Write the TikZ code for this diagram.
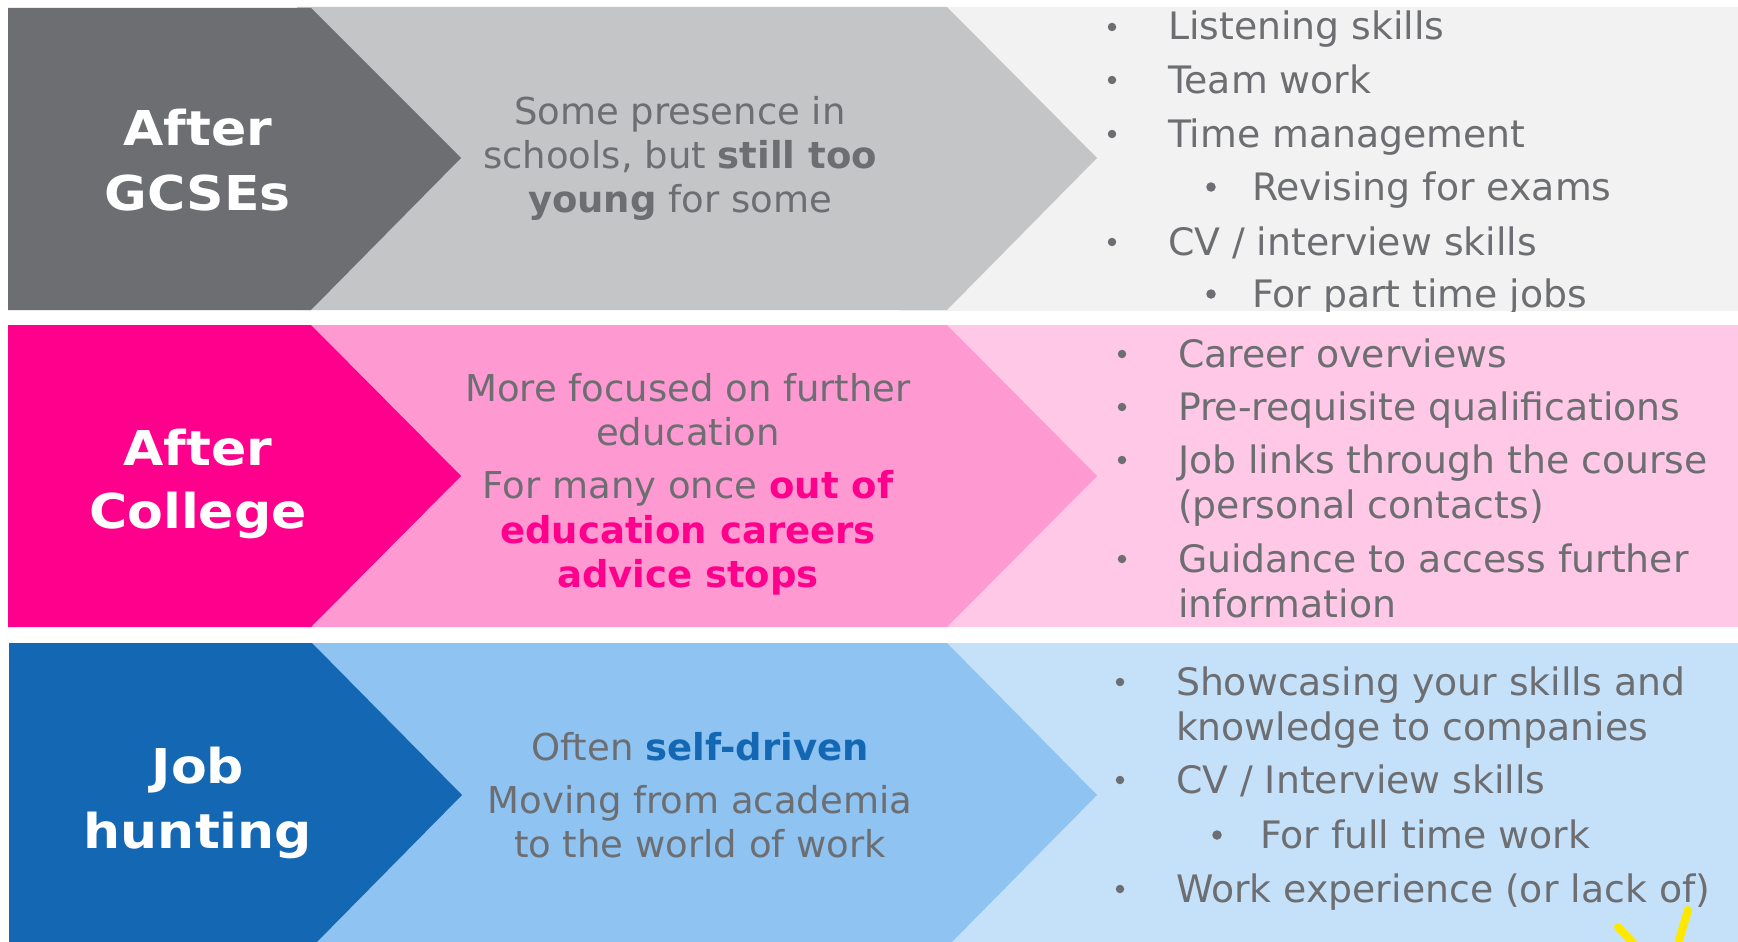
\documentclass[tikz,border=0pt]{standalone}
\usepackage{fontspec}
\setmainfont{DejaVu Sans}
\newfontfamily\lblfont{DejaVu Sans}[FakeStretch=1.085]
\definecolor{gDark}{HTML}{6D6E71}
\definecolor{gMid}{HTML}{C4C5C7}
\definecolor{gLight}{HTML}{F2F2F2}
\definecolor{pDark}{HTML}{FF008C}
\definecolor{pMid}{HTML}{FF99D2}
\definecolor{pLight}{HTML}{FFC8E7}
\definecolor{bDark}{HTML}{1468B3}
\definecolor{bMid}{HTML}{8EC3F2}
\definecolor{bLight}{HTML}{C5E1F9}
\definecolor{txtgray}{HTML}{6D6E71}
\definecolor{markyellow}{HTML}{FFE800}
\tikzset{
  body/.style={inner sep=0pt, outer sep=0pt, anchor=base, text=txtgray, font=\fontsize{37}{44}\selectfont},
  item/.style={inner sep=0pt, outer sep=0pt, anchor=base west, text=txtgray, font=\fontsize{37.8}{44}\selectfont},
  lbl/.style={inner sep=0pt, outer sep=0pt, anchor=base, text=white, font=\lblfont\fontsize{48}{52}\selectfont\bfseries},
  bul/.style={circle, fill=txtgray, inner sep=0pt, outer sep=0pt, minimum size=8.5pt},
  subbul/.style={bul, minimum size=9.5pt},
}
\begin{document}
\begin{tikzpicture}[x=1pt,y=-1pt]
\clip (0,0) rectangle (1738,942);
\fill[white] (0,0) rectangle (1738,942);
% ---------- Row 1 ----------
\fill[gLight] (900,7) rectangle (1738,311);
\fill[gMid] (297,7) -- (947,7) -- (1097,158) -- (947,310) -- (297,310) -- cycle;
\fill[gDark] (8,8) -- (311,8) -- (461,158) -- (311,310) -- (8,310) -- cycle;
% ---------- Row 2 ----------
\fill[pLight] (900,325) rectangle (1738,627);
\fill[pMid] (297,325) -- (947,325) -- (1097,476) -- (947,627) -- (297,627) -- cycle;
\fill[pDark] (8,325) -- (311,325) -- (461,476) -- (311,627) -- (8,627) -- cycle;
% ---------- Row 3 ----------
\fill[bLight] (900,643) rectangle (1738,947);
\fill[bMid] (297,643) -- (947,643) -- (1097,795) -- (947,947) -- (297,947) -- cycle;
\fill[bDark] (9,643) -- (312,643) -- (462,795) -- (312,947) -- (9,947) -- cycle;

% ---------- Labels ----------
\node[lbl] (l1a) at (198,145) {After};
\node[lbl] (l1b) at (198,210) {GCSEs};
\node[lbl] (l2a) at (198,465) {After};
\node[lbl] (l2b) at (198,528) {College};
\node[lbl] (l3a) at (198,783) {Job};
\node[lbl] (l3b) at (198,848) {hunting};

% ---------- Middle texts ----------
\node[body] (m1a) at (680,124) {Some presence in};
\node[body] (m1b) at (680,168) {schools, but \textbf{still too}};
\node[body] (m1c) at (680,212) {\textbf{young} for some};

\node[body] (m2a) at (688,401) {More focused on further};
\node[body] (m2b) at (688,445) {education};
\node[body] (m2c) at (688,498) {For many once \textbf{\textcolor{pDark}{out of}}};
\node[body] (m2d) at (688,543) {\textbf{\textcolor{pDark}{education careers}}};
\node[body] (m2e) at (688,587) {\textbf{\textcolor{pDark}{advice stops}}};

\node[body] (m3a) at (700,760) {Often \textbf{\textcolor{bDark}{self-driven}}};
\node[body] (m3b) at (700,813) {Moving from academia};
\node[body] (m3c) at (700,857) {to the world of work};

% ---------- Right column, row 1 ----------
\begin{scope}
\clip (900,7) rectangle (1738,311);
\node[bul] (b1a) at (1112,27) {};
\node[item] (r1a) at (1168,40) {Listening skills};
\node[bul] (b1b) at (1112,80) {};
\node[item] (r1b) at (1168,93) {Team work};
\node[bul] (b1c) at (1112,134) {};
\node[item] (r1c) at (1168,147) {Time management};
\node[subbul] (b1d) at (1211,187) {};
\node[item] (r1d) at (1252,200) {Revising for exams};
\node[bul] (b1e) at (1112,242) {};
\node[item] (r1e) at (1168,255) {CV / interview skills};
\node[subbul] (b1f) at (1211,294) {};
\node[item] (r1f) at (1252,307) {For part time jobs};
\end{scope}

% ---------- Right column, row 2 ----------
\node[bul] (b2a) at (1122,354) {};
\node[item] (r2a) at (1178,367) {Career overviews};
\node[bul] (b2b) at (1122,407) {};
\node[item] (r2b) at (1178,420) {Pre-requisite qualifications};
\node[bul] (b2c) at (1122,460) {};
\node[item] (r2c) at (1178,473) {Job links through the course};
\node[item] (r2d) at (1178,518) {(personal contacts)};
\node[bul] (b2e) at (1122,559) {};
\node[item] (r2e) at (1178,572) {Guidance to access further};
\node[item] (r2f) at (1178,617) {information};

% ---------- Right column, row 3 ----------
\node[bul] (b3a) at (1120,682) {};
\node[item] (r3a) at (1176,695) {Showcasing your skills and};
\node[item] (r3b) at (1176,740) {knowledge to companies};
\node[bul] (b3c) at (1120,780) {};
\node[item] (r3c) at (1176,793) {CV / Interview skills};
\node[subbul] (b3d) at (1217,835) {};
\node[item] (r3d) at (1260,848) {For full time work};
\node[bul] (b3e) at (1120,889) {};
\node[item] (r3e) at (1176,902) {Work experience (or lack of)};

% ---------- Yellow marks ----------
\draw[markyellow, line width=8pt, line cap=round] (1618,927) -- (1636,946);
\draw[markyellow, line width=8pt, line cap=round] (1688,910) -- (1679,940);
\end{tikzpicture}
\end{document}
